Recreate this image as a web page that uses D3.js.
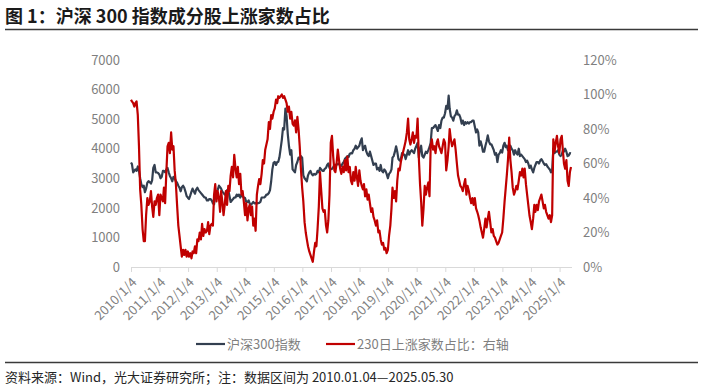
<!DOCTYPE html>
<html><head><meta charset="utf-8">
<script src="https://cdn.jsdelivr.net/npm/d3@7/dist/d3.min.js"></script>
<style>
html,body{margin:0;padding:0;background:#fff;}
svg{display:block;font-family:"Noto Sans CJK SC","Noto Sans",sans-serif;}
</style></head>
<body>
<svg id="chart" width="703" height="390"></svg>
<script>
// ---- data (semi-monthly readings: 1st and 16th of each month) ----
const years = [2010,2011,2012,2013,2014,2015,2016,2017,2018,2019,2020,2021,2022,2023,2024,2025];
const startDate = "2010-01-04";
const lastDate = "2025-05-30";
const tickLabels = ["2010/1/4","2011/1/4","2012/1/4","2013/1/4","2014/1/4","2015/1/4","2016/1/4","2017/1/4","2018/1/4","2019/1/4","2020/1/4","2021/1/4","2022/1/4","2023/1/4","2024/1/4","2025/1/4"];
const leftTicks = [0,1000,2000,3000,4000,5000,6000,7000];
const rightTicks = [0,0.2,0.4,0.6,0.8,1.0,1.2];

// 沪深300指数
const c2010 = [3535,3480,3200,3250,3300,3250,3400,3250,3000,2800,2700,2750,2530,2650,2850,2900,2870,2820,2930,3350,3450,3200,3200,3180];
const c2011 = [3130,3000,3050,3250,3250,3200,3300,3350,3200,3080,3000,2900,3050,3000,2900,2850,2750,2680,2560,2700,2750,2680,2550,2400];
const c2012 = [2345,2300,2420,2550,2650,2560,2480,2620,2680,2600,2550,2500,2450,2400,2350,2350,2250,2250,2300,2300,2250,2150,2120,2400];
const c2013 = [2520,2600,2750,2700,2650,2550,2500,2450,2500,2600,2600,2400,2200,2250,2300,2350,2350,2450,2400,2450,2350,2450,2400,2350];
const c2014 = [2330,2200,2200,2250,2150,2100,2150,2200,2150,2160,2150,2160,2170,2200,2350,2350,2350,2380,2450,2450,2500,2600,2900,3300];
const c2015 = [3530,3550,3450,3550,3550,3700,4000,4300,4700,4650,5360,5100,4500,4100,3800,3950,3300,3250,3200,3450,3550,3700,3650,3750];
const c2016 = [3700,3100,3000,2950,2900,3100,3200,3250,3150,3100,3150,3120,3150,3250,3200,3350,3300,3250,3250,3320,3350,3450,3500,3350];
const c2017 = [3310,3320,3380,3450,3450,3460,3480,3500,3400,3420,3500,3550,3660,3700,3750,3720,3830,3850,3840,3950,4000,4100,4000,4050];
const c2018 = [4100,4250,4350,3950,4050,4100,3900,3800,3750,3900,3750,3600,3450,3500,3500,3300,3350,3250,3450,3250,3200,3300,3250,3150];
const c2019 = [3000,3150,3200,3300,3700,3750,3900,4080,3900,3650,3600,3650,3850,3800,3800,3650,3800,3950,3800,3900,3950,3900,3850,4000];
const c2020 = [4100,4200,3700,4000,4100,3750,3700,3800,3900,3850,3950,4050,4200,4700,4700,4750,4800,4700,4600,4800,4700,4950,5050,5050];
const c2021 = [5200,5450,5350,5800,5350,5100,5050,4950,5100,5150,5300,5150,5150,5050,4850,4950,4800,4900,4850,4900,4850,4900,4900,4950];
const c2022 = [4950,4750,4550,4650,4550,4100,4250,4100,3900,3900,4100,4250,4450,4250,4150,4150,4050,3950,3800,3850,3550,3800,3850,3950];
const c2023 = [3870,4100,4200,4050,4100,3950,4050,4100,4000,3950,3800,3950,3850,3800,4000,3750,3800,3750,3700,3650,3550,3600,3500,3350];
const c2024 = [3430,3300,3200,3350,3450,3550,3550,3500,3600,3650,3580,3500,3450,3480,3400,3350,3300,3200,3250,4000,3850,3900,3900,3950];
const c2025 = [3800,3750,3800,3950,3900,4000,3900,3750,3770,3850,3840];

// 230日上涨家数占比 (%)
const r2010 = [97,96,95,93,95,96,88,70,45,36,22,15,15,30,40,36,38,44,35,29,38,36,40,42];
const r2011 = [30,42,40,38,46,37,55,70,72,66,78,68,70,56,48,36,24,18,12,6,10,7,10,6];
const r2012 = [9,6,8,5,9,8,12,8,16,15,20,16,25,18,22,20,21,26,19,24,25,24,42,48];
const r2013 = [38,44,40,32,44,38,30,36,44,36,47,44,53,58,52,65,57,52,58,48,54,42,44,38];
const r2014 = [30,37,27,34,36,30,35,24,28,21,42,47,51,48,54,62,60,68,71,74,84,80,88,86];
const r2015 = [90,92,97,95,99,98,99,100,98,99,97,95,90,93,86,90,83,82,85,78,87,80,70,57];
const r2016 = [46,38,26,20,16,12,9,7,5,3,9,14,12,22,35,55,44,34,32,33,24,20,27,42];
const r2017 = [72,76,64,56,55,60,68,62,57,54,58,55,62,56,64,55,58,50,48,55,50,58,52,47];
const r2018 = [56,50,47,45,48,41,45,39,42,37,32,34,29,27,24,27,20,21,16,13,14,10,11,8];
const r2019 = [10,18,24,34,46,40,44,38,50,57,56,61,64,67,70,73,78,86,74,71,74,78,72,76];
const r2020 = [75,86,63,48,38,24,34,47,42,46,49,41,70,74,68,70,66,72,74,70,68,66,70,74];
const r2021 = [72,56,62,70,80,74,70,72,74,68,60,53,50,47,46,44,48,51,42,47,44,40,37,40];
const r2022 = [36,40,34,32,30,27,23,20,17,22,28,23,28,32,26,20,22,18,17,15,13,14,16,18];
const r2023 = [20,28,38,46,53,62,75,62,55,46,42,44,47,45,50,55,53,57,52,57,48,42,36,30];
const r2024 = [26,22,28,36,32,36,33,38,40,42,38,34,36,32,30,28,30,26,30,74,67,72,76,70];
const r2025 = [66,74,76,67,60,57,62,50,47,55,58];

const csiByYear = [c2010,c2011,c2012,c2013,c2014,c2015,c2016,c2017,c2018,c2019,c2020,c2021,c2022,c2023,c2024,c2025];
const ratioByYear = [r2010,r2011,r2012,r2013,r2014,r2015,r2016,r2017,r2018,r2019,r2020,r2021,r2022,r2023,r2024,r2025];

// ---- build series ----
const parse = d3.timeParse("%Y-%m-%d");
const d0 = parse(startDate), dEnd = parse(lastDate);
function dateOf(yi, k, arr){
  const y = years[yi];
  if (yi === years.length-1 && k === arr.length-1) return dEnd;
  const dt = new Date(y, Math.floor(k/2), k%2 ? 16 : 1);
  return dt < d0 ? d0 : dt;
}
const csi = [], ratio = [];
csiByYear.forEach((arr, yi) => arr.forEach((v, k) => csi.push({date: dateOf(yi,k,arr), v})));
ratioByYear.forEach((arr, yi) => arr.forEach((v, k) => ratio.push({date: dateOf(yi,k,arr), v: v/100})));

// ---- drawing ----
const svg = d3.select("#chart");
const x = d3.scaleTime().domain([d0, dEnd]).range([131, 571]);
const yL = d3.scaleLinear().domain([0, 7000]).range([267, 60]);
const yR = d3.scaleLinear().domain([0, 1.2]).range([267, 60]);

// title
svg.append("text").attr("x", 5).attr("y", 23)
  .attr("font-size", 18).attr("font-weight", "bold").attr("fill", "#1a1a1a")
  .text("图 1：沪深 300 指数成分股上涨家数占比");
svg.append("line").attr("x1", 5).attr("x2", 698).attr("y1", 29.5).attr("y2", 29.5)
  .attr("stroke", "#3a3a3a").attr("stroke-width", 1.5);

// left axis
const gL = svg.append("g").attr("transform", "translate(131,0)")
  .call(d3.axisLeft(yL).tickValues(leftTicks).tickSize(0).tickPadding(11).tickFormat(d3.format("d")));
gL.select(".domain").remove();
gL.selectAll("text").attr("font-size", 13).attr("fill", "#7f7f7f")
  .attr("font-family", "'Noto Sans CJK SC','Noto Sans',sans-serif");

// right axis
const gR = svg.append("g").attr("transform", "translate(571,0)")
  .call(d3.axisRight(yR).tickValues(rightTicks).tickSize(0).tickPadding(12).tickFormat(d3.format(".0%")));
gR.select(".domain").remove();
gR.selectAll("text").attr("font-size", 13).attr("fill", "#7f7f7f")
  .attr("font-family", "'Noto Sans CJK SC','Noto Sans',sans-serif");

// bottom axis
const tickDates = years.map(y => new Date(y, 0, 4));
const gX = svg.append("g").attr("transform", "translate(0,267)")
  .call(d3.axisBottom(x).tickValues(tickDates).tickSize(5).tickFormat((d, i) => tickLabels[i]));
gX.select(".domain").attr("stroke", "#d9d9d9").attr("stroke-width", 1.2)
  .attr("d", "M" + x(d0) + ",0.5H" + (x(dEnd) + 1));
gX.selectAll(".tick line").attr("stroke", "#d9d9d9").attr("stroke-width", 1);
gX.selectAll(".tick text")
  .attr("font-size", 13).attr("fill", "#7f7f7f")
  .attr("font-family", "'Noto Sans CJK SC','Noto Sans',sans-serif")
  .attr("text-anchor", "end").attr("dy", "0.35em")
  .attr("transform", "translate(3,13) rotate(-45)").attr("y", 0).attr("x", 0);

// lines
const lineL = d3.line().x(d => x(d.date)).y(d => yL(d.v));
const lineR = d3.line().x(d => x(d.date)).y(d => yR(d.v));
svg.append("path").datum(csi).attr("d", lineL)
  .attr("fill", "none").attr("stroke", "#333f50").attr("stroke-width", 2.2).attr("stroke-linejoin", "round");
svg.append("path").datum(ratio).attr("d", lineR)
  .attr("fill", "none").attr("stroke", "#c00000").attr("stroke-width", 2.2).attr("stroke-linejoin", "round");

// legend
const legend = [
  {label: "沪深300指数", color: "#333f50", x: 196},
  {label: "230日上涨家数占比：右轴", color: "#c00000", x: 326}
];
const lg = svg.append("g");
legend.forEach(l => {
  lg.append("line").attr("x1", l.x).attr("x2", l.x + 29).attr("y1", 344).attr("y2", 344)
    .attr("stroke", l.color).attr("stroke-width", 2.2);
  lg.append("text").attr("x", l.x + 31).attr("y", 344).attr("dy", "0.35em")
    .attr("font-size", 13).attr("fill", "#7f7f7f").text(l.label);
});

// footer
svg.append("line").attr("x1", 5).attr("x2", 698).attr("y1", 362.5).attr("y2", 362.5)
  .attr("stroke", "#3a3a3a").attr("stroke-width", 1.5);
svg.append("text").attr("x", 5).attr("y", 377).attr("dy", "0.35em")
  .attr("font-size", 13).attr("fill", "#262626")
  .text("资料来源：Wind，光大证券研究所；注：数据区间为 2010.01.04—2025.05.30");
</script>
</body></html>
